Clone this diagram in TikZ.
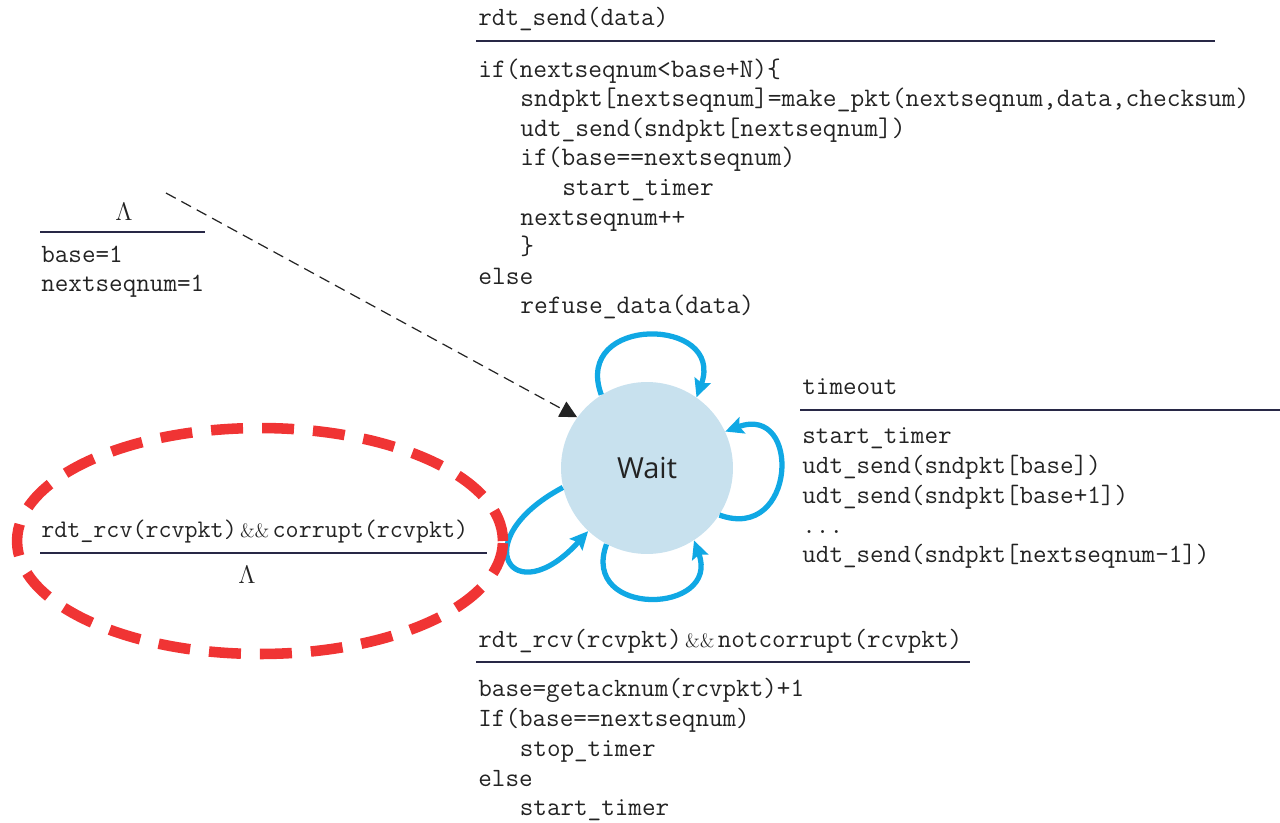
\documentclass[tikz,border=0pt]{standalone}
\usepackage{fontspec}
\newfontfamily\waitfont{Open Sans}
\usetikzlibrary{arrows.meta}

\definecolor{loopblue}{RGB}{16,168,228}
\definecolor{statefill}{RGB}{200,225,238}
\definecolor{rulecol}{RGB}{40,40,70}
\definecolor{markred}{RGB}{240,52,52}
\definecolor{codegray}{RGB}{35,35,35}

\newcommand{\ind}{\hspace*{1.575em}}
\newcommand{\fst}{\rule{0pt}{12pt}}
\newcommand{\amps}{{\rmfamily\fontsize{11}{11}\selectfont\,\&\&\,}}

\begin{document}
\begin{tikzpicture}[x=0.02cm, y=-0.02cm,
    code/.style={inner sep=0pt, anchor=north west, align=left, text=codegray, font=\ttfamily\fontsize{15}{17}\selectfont},
    head/.style={inner sep=0pt, anchor=base west, text=codegray, font=\ttfamily\fontsize{15}{17}\selectfont},
    bar/.style={rulecol, line width=1.1pt},
    selfloop/.style={loopblue, line width=3pt, -{Stealth[length=0.36cm, width=0.34cm, inset=0.06cm]}},
    ]
    \useasboundingbox (0,0) rectangle (1280,822);

    % state
    \node[circle, fill=statefill, minimum size=3.44cm, inner sep=0pt, text=codegray,
          font=\waitfont\fontsize{16.5}{18}\selectfont] (wait) at (647,468) {Wait};

    % initial transition
    \node[head, anchor=base] (initev) at (124,220) {$\Lambda$};
    \draw[bar] (40,232) -- (205,232);
    \node[code, font=\ttfamily\fontsize{15}{16.5}\selectfont] (initact) at (41,241) {\fst base=1\\nextseqnum=1};
    \coordinate (init) at (166,193);
    \draw[codegray, line width=0.7pt, dash pattern=on 0.22cm off 0.13cm,
          -{Triangle[length=0.34cm, width=0.34cm]}] (init) -- (wait.144);

    % rdt_send
    \node[head] (sendev) at (478,25) {rdt\_send(data)};
    \draw[bar] (476,41) -- (1215,41);
    \node[code, font=\ttfamily\fontsize{15.2}{16.8}\selectfont] (sendact) at (478,56) {\fst if(nextseqnum<base+N)\{\\
        \ind sndpkt[nextseqnum]=make\_pkt(nextseqnum,data,checksum)\\
        \ind udt\_send(sndpkt[nextseqnum])\\
        \ind if(base==nextseqnum)\\
        \ind\ind start\_timer\\
        \ind nextseqnum++\\
        \ind \}\\
        else\\
        \ind refuse\_data(data)};

    % timeout
    \node[head] (timeev) at (802,394) {timeout};
    \draw[bar] (800,410) -- (1280,410);
    \node[code] (timeact) at (802,422) {\fst start\_timer\\
        udt\_send(sndpkt[base])\\
        udt\_send(sndpkt[base+1])\\
        ...\\
        udt\_send(sndpkt[nextseqnum-1])};

    % corrupt
    \node[head, font=\ttfamily\fontsize{14.4}{17}\selectfont] (correv) at (41,537) {rdt\_rcv(rcvpkt)\amps corrupt(rcvpkt)};
    \draw[bar] (40,553) -- (487,553);
    \node[head, anchor=base] (corract) at (247,583) {$\Lambda$};

    % notcorrupt
    \node[head] (ackev) at (478,647) {rdt\_rcv(rcvpkt)\amps notcorrupt(rcvpkt)};
    \draw[bar] (476,662) -- (970,662);
    \node[code] (ackact) at (478,675) {\fst base=getacknum(rcvpkt)+1\\
        If(base==nextseqnum)\\
        \ind stop\_timer\\
        else\\
        \ind start\_timer};

    % self loops
    \draw[selfloop] (wait.122) to[out=110, in=70, looseness=2.3] (wait.55);
    \draw[selfloop] (wait.-33) to[out=-20, in=20, looseness=2.5] (wait.25);
    \draw[selfloop] (wait.-118) to[out=-110, in=-70, looseness=2.3] (wait.-57);
    \draw[selfloop] (wait.193) to[out=208, in=228, looseness=5.7] (wait.227);

    % highlight
    \draw[markred, line width=6pt, dash pattern=on 0.64cm off 0.38cm] (260,541) ellipse [x radius=4.86cm, y radius=2.26cm];
\end{tikzpicture}
\end{document}
